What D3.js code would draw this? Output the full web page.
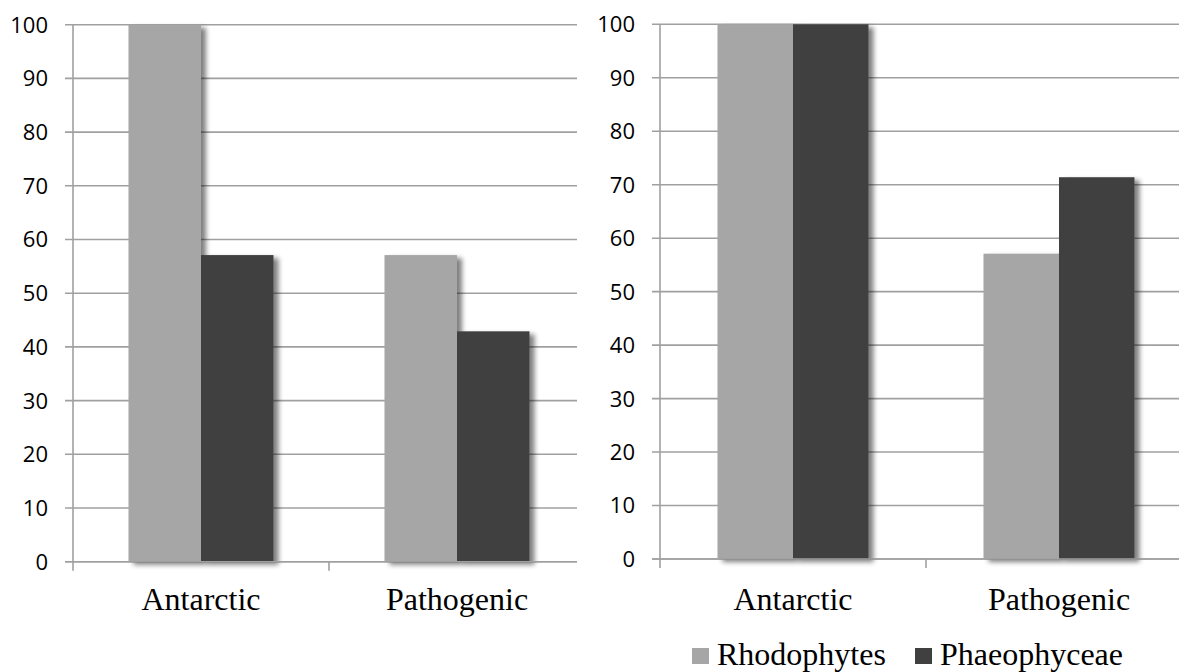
<!DOCTYPE html>
<html>
<head>
<meta charset="utf-8">
<script src="https://cdn.jsdelivr.net/npm/d3@7"></script>
<style>
  body { margin: 0; background: #fff; }
  svg { display: block; }
</style>
</head>
<body>
<div id="chart"></div>
<script>
// data
var categories = ["Antarctic", "Pathogenic"];
var seriesNames = ["Rhodophytes", "Phaeophyceae"];
var seriesColors = ["#a6a6a6", "#404040"];
// one row per category: [Rhodophytes, Phaeophyceae]
var leftValues = [[100, 57.1], [57.1, 42.9]];
var rightValues = [[100, 100], [57.1, 71.4]];
var yTicks = [0, 10, 20, 30, 40, 50, 60, 70, 80, 90, 100];

var width = 1179, height = 672;
var gridColor = "#a0a0a0";

var svg = d3.select("#chart").append("svg")
    .attr("width", width)
    .attr("height", height);

// soft shadow on the right of each bar
var filter = svg.append("defs").append("filter")
    .attr("id", "shadow")
    .attr("x", "-10%").attr("y", "-10%")
    .attr("width", "150%").attr("height", "130%");
filter.append("feGaussianBlur").attr("in", "SourceAlpha").attr("stdDeviation", 2.5).attr("result", "blur");
filter.append("feOffset").attr("in", "blur").attr("dx", 5).attr("dy", 3).attr("result", "off");
filter.append("feComponentTransfer").attr("in", "off").attr("result", "soft")
  .append("feFuncA").attr("type", "linear").attr("slope", 0.5);
var merge = filter.append("feMerge");
merge.append("feMergeNode").attr("in", "soft");
merge.append("feMergeNode").attr("in", "SourceGraphic");

function drawPanel(values, p) {
    var g = svg.append("g");
    var x0 = d3.scaleBand().domain(categories).range([p.left, p.right]);
    var x1 = d3.scaleBand().domain(seriesNames).range([p.pad, x0.bandwidth() - p.pad]);
    var y = d3.scaleLinear().domain([0, 100]).range([p.bottom, p.top]);

    // gridlines + outward ticks
    g.append("g").selectAll("line").data(yTicks).join("line")
        .attr("x1", p.left - 8).attr("x2", p.gridEnd)
        .attr("y1", function (d) { return y(d); })
        .attr("y2", function (d) { return y(d); })
        .attr("stroke", gridColor).attr("stroke-width", 1.6);

    // bars
    var groups = g.append("g").selectAll("g").data(values).join("g")
        .attr("transform", function (d, i) { return "translate(" + x0(categories[i]) + ",0)"; });
    groups.selectAll("rect")
        .data(function (d) { return d.map(function (v, j) { return { name: seriesNames[j], value: v, color: seriesColors[j] }; }); })
        .join("rect")
        .attr("x", function (d) { return x1(d.name); })
        .attr("width", x1.bandwidth())
        .attr("y", function (d) { return y(d.value); })
        .attr("height", function (d) { return y(0) - y(d.value); })
        .attr("fill", function (d) { return d.color; })
        .attr("filter", "url(#shadow)");

    // y axis line and labels
    g.append("line")
        .attr("x1", p.left).attr("x2", p.left)
        .attr("y1", y(100)).attr("y2", y(0) + 9)
        .attr("stroke", gridColor).attr("stroke-width", 1.6);
    g.append("line")
        .attr("x1", p.left - 8).attr("x2", p.gridEnd)
        .attr("y1", y(0)).attr("y2", y(0))
        .attr("stroke", gridColor).attr("stroke-width", 1.6);
    g.append("g").selectAll("text").data(yTicks).join("text")
        .attr("x", p.left - 25)
        .attr("y", function (d) { return y(d); })
        .attr("dy", "0.36em")
        .attr("text-anchor", "end")
        .style("font-family", "'Open Sans', sans-serif")
        .style("font-size", "22px")
        .attr("fill", "#000")
        .text(function (d) { return d; });

    // category boundary ticks
    var bounds = categories.slice(1).map(function (c) { return x0(c); });
    g.append("g").selectAll("line").data(bounds).join("line")
        .attr("x1", function (d) { return d; }).attr("x2", function (d) { return d; })
        .attr("y1", y(0)).attr("y2", y(0) + 9)
        .attr("stroke", gridColor).attr("stroke-width", 1.6);

    // category labels
    g.append("g").selectAll("text").data(categories).join("text")
        .attr("x", function (d) { return x0(d) + x0.bandwidth() / 2; })
        .attr("y", p.labelY)
        .attr("text-anchor", "middle")
        .style("font-family", "'Liberation Serif', 'Times New Roman', serif")
        .style("font-size", "32px")
        .attr("fill", "#000")
        .text(function (d) { return d; });
}

drawPanel(leftValues, { left: 73, right: 585, gridEnd: 577, top: 24.7, bottom: 561.7, pad: 55.5, labelY: 610 });
drawPanel(rightValues, { left: 660, right: 1192, gridEnd: 1179, top: 24.3, bottom: 559, pad: 57.5, labelY: 610 });

// legend
var legendX = [692, 915];
var legend = svg.append("g").selectAll("g").data(seriesNames).join("g")
    .attr("transform", function (d, i) { return "translate(" + legendX[i] + ",648)"; });
legend.append("rect")
    .attr("width", 17).attr("height", 16)
    .attr("fill", function (d, i) { return seriesColors[i]; });
legend.append("text")
    .attr("x", 25).attr("y", 17)
    .style("font-family", "'Liberation Serif', 'Times New Roman', serif")
    .style("font-size", "32px")
    .attr("fill", "#000")
    .text(function (d) { return d; });
</script>
</body>
</html>
